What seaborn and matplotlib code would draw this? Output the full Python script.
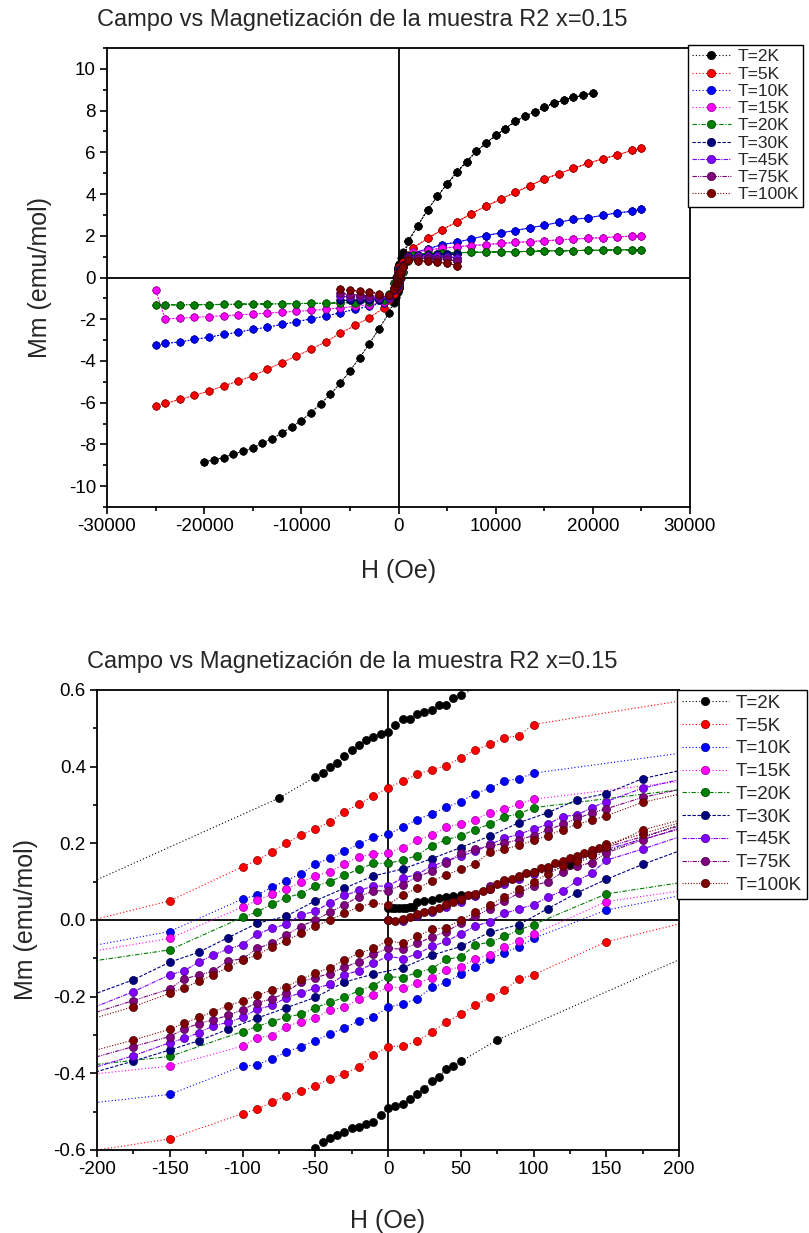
import matplotlib
matplotlib.use("Agg")
import matplotlib.pyplot as plt
import seaborn as sns
import pandas as pd
from matplotlib.lines import Line2D
from matplotlib.ticker import MultipleLocator
from matplotlib import font_manager

sns.set_theme(style="white")
_names = {f.name for f in font_manager.fontManager.ttflist}
NARROW = "Liberation Sans Narrow" if "Liberation Sans Narrow" in _names else "Liberation Sans"
plt.rcParams["font.family"] = ["Liberation Sans", "DejaVu Sans"]
plt.rcParams["axes.unicode_minus"] = False

# ---------------- data ----------------
TEMPS = ["T=2K", "T=5K", "T=10K", "T=15K", "T=20K", "T=30K", "T=45K", "T=75K", "T=100K"]
COLORS = ["#000000", "#FF0000", "#0000FF", "#FF00FF", "#008000", "#000080", "#8000FF", "#800080", "#800000"]

# high-field grids (positive side, from Hmax down)
H_HI_2K = [20000, 19000, 18000, 17000, 16000, 15000, 14000, 13000, 12000, 11000, 10000, 9000, 8000, 7000, 6000, 5000, 4000, 3000, 2000, 1000]
H_HI_25 = [25000, 24000, 22500, 21000, 19500, 18000, 16500, 15000, 13500, 12000, 10500, 9000, 7500, 6000, 4500, 3000, 1500]
H_HI_6 = [6000, 5000, 4000, 3000, 2000, 1000]

HI_P_2K = [8.84, 8.74, 8.63, 8.50, 8.36, 8.15, 7.94, 7.72, 7.48, 7.14, 6.81, 6.44, 6.04, 5.55, 5.04, 4.48, 3.89, 3.25, 2.49, 1.74]
HI_N_2K = [-8.84, -8.74, -8.63, -8.47, -8.33, -8.17, -7.94, -7.72, -7.46, -7.16, -6.86, -6.48, -6.04, -5.60, -5.07, -4.48, -3.84, -3.17, -2.45, -1.72]
HI_P_5K = [6.19, 6.09, 5.87, 5.69, 5.47, 5.23, 4.98, 4.72, 4.40, 4.08, 3.75, 3.42, 3.06, 2.66, 2.30, 1.87, 1.42]
HI_N_5K = [-6.16, -6.03, -5.84, -5.65, -5.44, -5.20, -4.96, -4.72, -4.40, -4.08, -3.76, -3.44, -3.08, -2.68, -2.30, -1.93, -1.45]
HI_P_10K = [3.29, 3.17, 3.10, 2.98, 2.86, 2.78, 2.65, 2.50, 2.38, 2.25, 2.14, 2.01, 1.85, 1.69, 1.58, 1.37, 1.18]
HI_N_10K = [-3.25, -3.16, -3.09, -2.97, -2.86, -2.73, -2.62, -2.49, -2.38, -2.25, -2.12, -1.98, -1.85, -1.69, -1.53, -1.37, -1.21]
HI_P_15K = [2.01, 1.98, 1.95, 1.91, 1.88, 1.84, 1.80, 1.76, 1.72, 1.68, 1.63, 1.58, 1.53, 1.47, 1.40, 1.32, 1.20]
HI_N_15K = [-0.61, -1.99, -1.95, -1.91, -1.87, -1.83, -1.79, -1.75, -1.71, -1.66, -1.62, -1.58, -1.52, -1.46, -1.38, -1.30, -1.18]
HI_P_20K = [1.34, 1.33, 1.32, 1.31, 1.30, 1.29, 1.28, 1.27, 1.25, 1.24, 1.23, 1.22, 1.20, 1.19, 1.17, 1.15, 1.10]
HI_N_20K = [-1.31, -1.31, -1.31, -1.30, -1.30, -1.29, -1.28, -1.27, -1.27, -1.26, -1.25, -1.24, -1.23, -1.22, -1.20, -1.16, -1.10]
HI_P_30K = [1.12, 1.12, 1.11, 1.10, 1.08, 1.02]
HI_N_30K = [-1.10, -1.10, -1.09, -1.08, -1.06, -1.00]
HI_P_45K = [0.95, 1.00, 1.02, 1.03, 1.03, 1.00]
HI_N_45K = [-0.89, -0.94, -0.93, -0.96, -1.00, -0.98]
HI_P_75K = [0.80, 0.87, 0.90, 0.92, 0.93, 0.92]
HI_N_75K = [-0.75, -0.82, -0.85, -0.88, -0.90, -0.90]
HI_P_100K = [0.57, 0.70, 0.73, 0.78, 0.81, 0.83]
HI_N_100K = [-0.54, -0.61, -0.65, -0.70, -0.77, -0.83]

# low-field field lists
H_STEP10 = [100, 90, 80, 70, 60, 50, 40, 30, 20, 10, 0, -10, -20, -30, -40, -50, -60, -70, -80, -90, -100]
H_STEP5 = [50, 45, 40, 35, 30, 25, 20, 15, 10, 5, 0, -5, -10, -15, -20, -25, -30, -35, -40, -45, -50]
H_STEP20 = [175, 150, 130, 110, 90, 70, 50, 30, 10, -10, -30, -50, -70, -90, -110, -130, -150, -175]
H_STEP10W = [150, 140, 130, 120, 110, 100, 90, 80, 70, 60, 50, 40, 30, 20, 10, 0, -10, -20, -30, -40, -50, -60, -70, -80, -90, -100, -110, -120, -130, -140, -150]

# 2 K
DESC_H_2K = [500, 250, 100, 75] + H_STEP5 + [-75, -250, -500]
DESC_M_2K = [1.20, 0.92, 0.67, 0.63, 0.587, 0.58, 0.56, 0.56, 0.549, 0.542, 0.537, 0.524, 0.524, 0.51, 0.49, 0.485, 0.477, 0.47, 0.456, 0.443, 0.427, 0.41, 0.40, 0.383, 0.373, 0.318, 0.02, -0.75]
ASC_H_2K = [-500, -250, -100, -75] + H_STEP5[::-1] + [75, 250, 500]
ASC_M_2K = [-1.20, -0.92, -0.68, -0.64, -0.594, -0.58, -0.569, -0.562, -0.553, -0.543, -0.539, -0.532, -0.526, -0.508, -0.491, -0.484, -0.48, -0.468, -0.455, -0.441, -0.42, -0.409, -0.389, -0.381, -0.369, -0.313, -0.02, 0.75]
VIR_H_2K = [0, 2.5, 5, 7.5, 10, 12.5, 15, 17.5, 20, 25, 30, 35, 40, 45, 50, 125, 250, 500]
VIR_M_2K = [0.031, 0.031, 0.031, 0.032, 0.032, 0.032, 0.033, 0.033, 0.047, 0.050, 0.053, 0.057, 0.060, 0.062, 0.064, 0.143, 0.32, 0.80]

# 5 K
DESC_H_5K = [1000, 500] + H_STEP10 + [-150, -500, -1000]
DESC_M_5K = [1.10, 0.754, 0.510, 0.481, 0.475, 0.458, 0.444, 0.423, 0.403, 0.392, 0.380, 0.362, 0.345, 0.323, 0.302, 0.283, 0.255, 0.238, 0.222, 0.200, 0.177, 0.156, 0.139, 0.050, -0.28, -1.05]
ASC_H_5K = [-1000, -500, -150] + H_STEP10[::-1] + [150, 500, 1000]
ASC_M_5K = [-1.10, -0.775, -0.571, -0.505, -0.493, -0.476, -0.458, -0.447, -0.433, -0.414, -0.401, -0.383, -0.353, -0.330, -0.329, -0.316, -0.293, -0.266, -0.246, -0.223, -0.202, -0.183, -0.154, -0.143, -0.057, 0.27, 1.05]

# 10 K
DESC_H_10K = [1000, 500] + H_STEP10 + [-150, -500, -1000]
DESC_M_10K = [0.95, 0.59, 0.383, 0.369, 0.362, 0.344, 0.330, 0.309, 0.294, 0.277, 0.262, 0.242, 0.224, 0.216, 0.198, 0.179, 0.162, 0.145, 0.120, 0.103, 0.085, 0.065, 0.055, -0.030, -0.275, -0.90]
ASC_H_10K = [-1000, -500, -150] + H_STEP10[::-1] + [150, 500, 1000]
ASC_M_10K = [-0.95, -0.60, -0.455, -0.381, -0.378, -0.362, -0.345, -0.330, -0.315, -0.297, -0.282, -0.263, -0.252, -0.228, -0.219, -0.205, -0.176, -0.163, -0.142, -0.123, -0.102, -0.085, -0.070, -0.048, 0.026, 0.285, 0.90]

# 15 K
DESC_H_15K = [1000, 500] + H_STEP10 + [-150, -500, -1000]
DESC_M_15K = [0.85, 0.50, 0.315, 0.302, 0.289, 0.280, 0.262, 0.250, 0.243, 0.221, 0.208, 0.189, 0.176, 0.172, 0.165, 0.146, 0.126, 0.115, 0.098, 0.080, 0.067, 0.051, 0.034, -0.048, -0.27, -0.85]
ASC_H_15K = [-1000, -500, -150] + H_STEP10[::-1] + [150, 500, 1000]
ASC_M_15K = [-0.85, -0.52, -0.381, -0.329, -0.307, -0.302, -0.278, -0.265, -0.255, -0.235, -0.228, -0.206, -0.195, -0.174, -0.178, -0.165, -0.150, -0.131, -0.122, -0.102, -0.090, -0.070, -0.054, -0.037, 0.048, 0.24, 0.85]

# 20 K
DESC_H_20K = [1000, 500] + H_STEP10 + [-150, -500, -1000]
DESC_M_20K = [0.80, 0.48, 0.293, 0.277, 0.269, 0.250, 0.236, 0.220, 0.209, 0.194, 0.168, 0.156, 0.148, 0.148, 0.132, 0.117, 0.100, 0.088, 0.069, 0.058, 0.041, 0.021, 0.007, -0.078, -0.27, -0.80]
ASC_H_20K = [-1000, -500, -150] + H_STEP10[::-1] + [150, 500, 1000]
ASC_M_20K = [-0.80, -0.50, -0.356, -0.291, -0.278, -0.265, -0.253, -0.246, -0.229, -0.215, -0.202, -0.184, -0.171, -0.148, -0.150, -0.137, -0.127, -0.103, -0.096, -0.065, -0.058, -0.043, -0.026, -0.012, 0.068, 0.27, 0.80]

# 30 K
DESC_H_30K = [500, 250] + H_STEP20 + [-250, -500]
DESC_M_30K = [0.60, 0.43, 0.369, 0.330, 0.314, 0.280, 0.254, 0.219, 0.189, 0.160, 0.133, 0.115, 0.083, 0.050, 0.010, -0.009, -0.046, -0.084, -0.110, -0.156, -0.26, -0.48]
ASC_H_30K = [-500, -250] + H_STEP20[::-1] + [250, 500]
ASC_M_30K = [-0.60, -0.45, -0.368, -0.339, -0.315, -0.285, -0.256, -0.229, -0.202, -0.162, -0.141, -0.125, -0.092, -0.069, -0.032, -0.012, 0.030, 0.071, 0.106, 0.145, 0.25, 0.48]

# 45 K
DESC_H_45K = [500, 250, 175] + H_STEP10W + [-175, -250, -500]
DESC_M_45K = [0.62, 0.41, 0.344, 0.309, 0.293, 0.274, 0.270, 0.250, 0.237, 0.224, 0.213, 0.197, 0.179, 0.167, 0.153, 0.141, 0.118, 0.110, 0.088, 0.089, 0.077, 0.064, 0.045, 0.023, 0.013, -0.011, -0.022, -0.037, -0.064, -0.076, -0.091, -0.110, -0.132, -0.143, -0.187, -0.30, -0.55]
ASC_H_45K = [-500, -250, -175] + H_STEP10W[::-1] + [175, 250, 500]
ASC_M_45K = [-0.62, -0.44, -0.354, -0.320, -0.309, -0.294, -0.276, -0.267, -0.254, -0.233, -0.223, -0.203, -0.190, -0.178, -0.168, -0.143, -0.132, -0.113, -0.094, -0.101, -0.089, -0.069, -0.056, -0.036, -0.016, -0.004, 0.017, 0.029, 0.040, 0.060, 0.076, 0.102, 0.122, 0.156, 0.185, 0.28, 0.55]
VIR_H_45K = [0, 10, 20, 30, 40, 50, 60, 70, 80, 90, 100, 110, 120, 130, 140, 150, 250, 500]
VIR_M_45K = [0.0, -0.002, 0.010, 0.020, 0.034, 0.048, 0.062, 0.082, 0.095, 0.108, 0.120, 0.132, 0.145, 0.157, 0.170, 0.184, 0.29, 0.52]

# 75 K
DESC_H_75K = DESC_H_45K
DESC_M_75K = [0.58, 0.38, 0.320, 0.290, 0.279, 0.265, 0.250, 0.235, 0.220, 0.210, 0.200, 0.193, 0.185, 0.174, 0.150, 0.127, 0.113, 0.092, 0.076, 0.076, 0.061, 0.040, 0.020, 0.0, -0.017, -0.039, -0.061, -0.074, -0.102, -0.106, -0.133, -0.144, -0.153, -0.180, -0.210, -0.30, -0.52]
ASC_H_75K = ASC_H_45K
ASC_M_75K = [-0.58, -0.41, -0.330, -0.304, -0.284, -0.270, -0.260, -0.249, -0.234, -0.216, -0.206, -0.190, -0.161, -0.150, -0.140, -0.123, -0.109, -0.089, -0.074, -0.076, -0.061, -0.045, -0.030, -0.009, 0.010, 0.030, 0.050, 0.070, 0.090, 0.100, 0.125, 0.140, 0.150, 0.175, 0.209, 0.30, 0.52]
VIR_H_75K = VIR_H_45K
VIR_M_75K = [0.0, 0.0, 0.012, 0.024, 0.038, 0.052, 0.066, 0.088, 0.100, 0.112, 0.124, 0.136, 0.150, 0.162, 0.176, 0.190, 0.30, 0.53]

# 100 K
DESC_H_100K = DESC_H_45K
DESC_M_100K = [0.56, 0.37, 0.307, 0.272, 0.260, 0.250, 0.236, 0.220, 0.208, 0.195, 0.185, 0.177, 0.147, 0.132, 0.118, 0.101, 0.083, 0.065, 0.040, 0.044, 0.035, 0.017, 0.0, -0.016, -0.035, -0.054, -0.071, -0.091, -0.105, -0.123, -0.143, -0.160, -0.177, -0.191, -0.226, -0.31, -0.52]
ASC_H_100K = ASC_H_45K
ASC_M_100K = [-0.56, -0.39, -0.313, -0.285, -0.269, -0.254, -0.239, -0.224, -0.211, -0.196, -0.183, -0.174, -0.155, -0.139, -0.124, -0.105, -0.087, -0.074, -0.054, -0.061, -0.043, -0.024, -0.020, 0.0, 0.020, 0.040, 0.060, 0.080, 0.100, 0.120, 0.140, 0.155, 0.170, 0.190, 0.235, 0.31, 0.52]
VIR_H_100K = [0, 5, 10, 15, 20, 25, 30, 35, 40, 45, 50, 55, 60, 65, 70, 75, 80, 85, 90, 95, 100, 105, 110, 115, 120, 125, 130, 135, 140, 145, 150, 175, 250, 500]
VIR_M_100K = [0.0, -0.002, 0.002, 0.007, 0.015, 0.020, 0.026, 0.032, 0.042, 0.047, 0.056, 0.065, 0.069, 0.076, 0.082, 0.093, 0.104, 0.108, 0.115, 0.122, 0.126, 0.135, 0.139, 0.148, 0.155, 0.161, 0.167, 0.174, 0.182, 0.189, 0.197, 0.225, 0.31, 0.55]

SERIES = [
    (VIR_H_2K, VIR_M_2K, H_HI_2K, HI_P_2K, HI_N_2K, DESC_H_2K, DESC_M_2K, ASC_H_2K, ASC_M_2K),
    ([], [], H_HI_25, HI_P_5K, HI_N_5K, DESC_H_5K, DESC_M_5K, ASC_H_5K, ASC_M_5K),
    ([], [], H_HI_25, HI_P_10K, HI_N_10K, DESC_H_10K, DESC_M_10K, ASC_H_10K, ASC_M_10K),
    ([], [], H_HI_25, HI_P_15K, HI_N_15K, DESC_H_15K, DESC_M_15K, ASC_H_15K, ASC_M_15K),
    ([], [], H_HI_25, HI_P_20K, HI_N_20K, DESC_H_20K, DESC_M_20K, ASC_H_20K, ASC_M_20K),
    ([], [], H_HI_6, HI_P_30K, HI_N_30K, DESC_H_30K, DESC_M_30K, ASC_H_30K, ASC_M_30K),
    (VIR_H_45K, VIR_M_45K, H_HI_6, HI_P_45K, HI_N_45K, DESC_H_45K, DESC_M_45K, ASC_H_45K, ASC_M_45K),
    (VIR_H_75K, VIR_M_75K, H_HI_6, HI_P_75K, HI_N_75K, DESC_H_75K, DESC_M_75K, ASC_H_75K, ASC_M_75K),
    (VIR_H_100K, VIR_M_100K, H_HI_6, HI_P_100K, HI_N_100K, DESC_H_100K, DESC_M_100K, ASC_H_100K, ASC_M_100K),
]

LINESTYLES = [(0, (1, 2)), (0, (1, 2)), (0, (1, 2)), (0, (1, 2)), (0, (4, 1.5, 1, 1.5)),
              (0, (3, 1.5)), (0, (4, 1, 1, 1)), (0, (4, 1, 1, 1, 1, 1)), (0, (1, 1.5))]


def build_loop(vh, vm, hh, hp, hn, dh, dm, ah, am):
    H, M = list(vh), list(vm)
    H += hh[::-1]; M += hp[::-1]
    H += hh; M += hp
    H += dh; M += dm
    H += [-h for h in hh[::-1]]; M += hn[::-1]
    H += [-h for h in hh]; M += hn
    H += ah; M += am
    H += hh[::-1]; M += hp[::-1]
    return pd.DataFrame({"H": H, "M": M})


def darker(c, f=0.55):
    r, g, b = matplotlib.colors.to_rgb(c)
    return (r * f, g * f, b * f)


fig = plt.figure(figsize=(8.09, 12.33), dpi=100)
W, Hf = 809.0, 1233.0
ax1 = fig.add_axes([107 / W, 1 - 507 / Hf, (690 - 107) / W, (507 - 48) / Hf])
ax2 = fig.add_axes([97 / W, 1 - 1150 / Hf, (679 - 97) / W, (1150 - 690) / Hf])

for ax, ms in ((ax1, 5.3), (ax2, 5.8)):
    ax.axhline(0, color="black", lw=1.3, zorder=1.5)
    ax.axvline(0, color="black", lw=1.3, zorder=1.5)
    for i, s in enumerate(SERIES):
        df = build_loop(*s)
        sns.lineplot(data=df, x="H", y="M", sort=False, estimator=None, ax=ax,
                     color=COLORS[i], marker="o", markersize=ms, linewidth=0.8,
                     markeredgecolor=darker(COLORS[i]), markeredgewidth=0.5, legend=False)
        ax.lines[-1].set_linestyle(LINESTYLES[i])
        ax.lines[-1].set_zorder(2 + i * 0.01)

ax1.set_xlim(-30000, 30000)
ax1.set_ylim(-11, 11)
ax1.xaxis.set_major_locator(MultipleLocator(10000))
ax1.xaxis.set_minor_locator(MultipleLocator(5000))
ax1.yaxis.set_major_locator(MultipleLocator(2))
ax1.yaxis.set_minor_locator(MultipleLocator(1))

ax2.set_xlim(-200, 200)
ax2.set_ylim(-0.6, 0.6)
ax2.xaxis.set_major_locator(MultipleLocator(50))
ax2.xaxis.set_minor_locator(MultipleLocator(25))
ax2.yaxis.set_major_locator(MultipleLocator(0.2))
ax2.yaxis.set_minor_locator(MultipleLocator(0.1))
ax2.yaxis.set_major_formatter(matplotlib.ticker.FormatStrFormatter("%.1f"))

for ax in (ax1, ax2):
    for sp in ax.spines.values():
        sp.set_color("black")
        sp.set_linewidth(1.3)
    ax.tick_params(which="both", direction="out", bottom=True, left=True, top=False, right=False,
                   colors="black", width=1.2, pad=3)
    ax.tick_params(which="major", length=5)
    ax.tick_params(which="minor", length=3)
    for lab in ax.get_xticklabels() + ax.get_yticklabels():
        lab.set_fontfamily([NARROW, "Liberation Sans", "DejaVu Sans"])
        lab.set_fontsize(15 if NARROW != "Liberation Sans" else 13.5)
    ax.grid(False)

ax1.set_xlabel("H (Oe)", fontsize=18, labelpad=17)
ax1.set_ylabel("Mm (emu/mol)", fontsize=18, labelpad=12)
ax2.set_xlabel("H (Oe)", fontsize=18, labelpad=22)
ax2.set_ylabel("Mm (emu/mol)", fontsize=18, labelpad=11)

fig.text(97 / W, 1 - 20 / Hf, "Campo vs Magnetización de la muestra R2 x=0.15",
         fontsize=17, va="center", ha="left")
fig.text(87 / W, 1 - 662 / Hf, "Campo vs Magnetización de la muestra R2 x=0.15",
         fontsize=17, va="center", ha="left")

handles = [Line2D([0], [0], color=COLORS[i], linestyle=LINESTYLES[i], lw=0.8, marker="o",
                  markersize=6, markeredgecolor=darker(COLORS[i]), markeredgewidth=0.5)
           for i in range(len(TEMPS))]
for anchor, spacing, fs, hl in (((688 / W, 1 - 45 / Hf), 0.12, 12.5, 2.2),
                                ((677 / W, 1 - 690 / Hf), 0.3, 13.5, 2.5)):
    leg = fig.legend(handles, TEMPS, loc="upper left", bbox_to_anchor=anchor, frameon=True,
                     fancybox=False, edgecolor="black", fontsize=fs, handlelength=hl,
                     labelspacing=spacing, borderpad=0.25, handletextpad=0.4, borderaxespad=0)
    leg.get_frame().set_linewidth(1.0)
    leg.get_frame().set_alpha(1)

fig.savefig("out.png", dpi=100)
